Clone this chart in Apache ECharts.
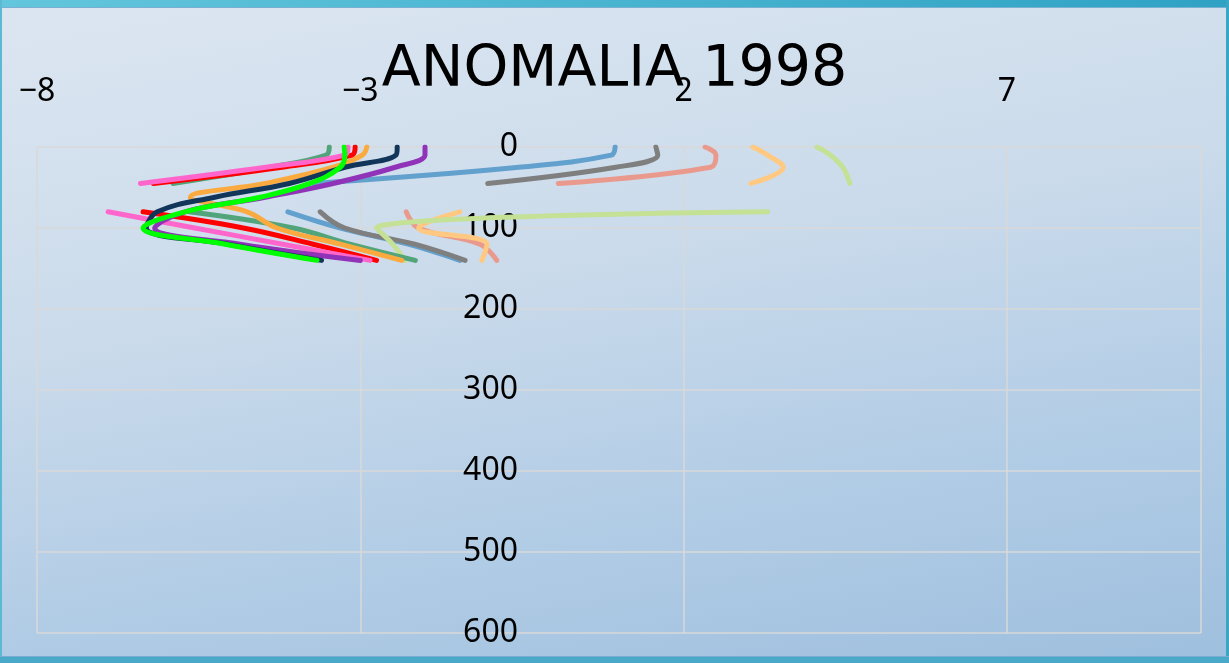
<!DOCTYPE html>
<html>
<head>
<meta charset="utf-8">
<script src="https://cdn.jsdelivr.net/npm/echarts@6/dist/echarts.min.js"></script>
<style>
  html, body { margin: 0; padding: 0; }
  #chart {
    width: 1229px;
    height: 663px;
    background: linear-gradient(170deg, #dce6f1 0%, #cbdbeb 40%, #b3cde6 70%, #9ebfde 100%);
  }
</style>
</head>
<body>
<div id="chart"></div>
<script>
// profundidades (eje Y, invertido)
const depths = [0, 10, 25, 45, 62, 80, 100, 120, 140]
// ticks del eje X
const xTicks = [-8, -3, 2, 7]

// anomalias por perfil (null = sin dato, corta la linea)
const lightBlue = [0.94, 0.88, -0.55, -3.73, null, -4.12, -3.31, -2.26, -1.46]
const gray = [1.57, 1.6, 0.95, -1.03, null, -3.62, -3.24, -2.16, -1.38]
const salmon = [2.33, 2.5, 2.42, 0.06, null, -2.29, -2.1, -1.15, -0.89]
const peach = [3.07, 3.3, 3.54, 3.04, null, -1.46, -2.1, -1.04, -1.12]
const lightGreen = [4.06, 4.27, 4.46, 4.57, null, 3.3, -2.75, -2.5, -2.31]
const seaGreen = [-3.48, -3.53, -4.4, -5.9, null, -5.65, -4.04, -3.16, -2.15]
const orange = [-2.9, -2.97, -3.42, -4.47, -5.63, -4.75, -4.29, -3.31, -2.36]
const red = [-3.08, -3.13, -4.21, -6.2, null, -6.36, -4.81, -3.73, -2.75]
const pink = [-3.19, -3.24, -4.46, -6.4, null, -6.9, -5.56, -4.2, -2.85]
const purple = [-2.0, -2.0, -2.46, -3.42, -4.47, -5.71, -6.18, -4.86, -3.0]
const navy = [-2.43, -2.45, -3.24, -4.1, -5.25, -6.14, -6.31, -5.05, -3.6]
const green = [-3.25, -3.24, -3.31, -3.78, -4.55, -5.71, -6.36, -5.09, -3.67]

const profiles = [
  { values: lightBlue, color: '#62a0cd' },
  { values: gray, color: '#7f7f7f' },
  { values: salmon, color: '#ea9a8c' },
  { values: peach, color: '#ffc982' },
  { values: lightGreen, color: '#c4e196' },
  { values: seaGreen, color: '#52a47a' },
  { values: orange, color: '#fbaa40' },
  { values: red, color: '#ff0000' },
  { values: pink, color: '#ff66cc' },
  { values: purple, color: '#9033b8' },
  { values: navy, color: '#12365a' },
  { values: green, color: '#00ff00' }
]

const chart = echarts.init(document.getElementById('chart'))

const labelFont = { fontFamily: 'Noto Sans', fontSize: 32, color: '#000' }
const minus = v => String(v).replace('-', '\u2212')

const option = {
  backgroundColor: 'transparent',
  animation: false,
  title: {
    text: 'ANOMALIA 1998',
    left: 'center',
    top: 38,
    textStyle: { fontFamily: 'DejaVu Sans', fontSize: 57, fontWeight: 'normal', color: '#000' }
  },
  grid: { left: 37, right: 28, top: 147, bottom: 30, containLabel: false, outerBoundsMode: 'none' },
  xAxis: {
    type: 'value',
    position: 'top',
    min: -8,
    max: 10,
    interval: 5,
    axisLine: { show: false, onZero: false },
    axisTick: { show: false },
    axisLabel: {
      ...labelFont,
      margin: 39,
      showMaxLabel: false,
      formatter: v => (xTicks.includes(v) ? minus(v) : '')
    },
    splitLine: { show: true, lineStyle: { color: '#d9d9d9', width: 1.5 } }
  },
  yAxis: {
    type: 'value',
    inverse: true,
    min: 0,
    max: 600,
    interval: 100,
    position: 'left',
    // el eje Y cruza en x = 0
    offset: -518,
    axisLine: { show: false, onZero: false },
    axisTick: { show: false },
    axisLabel: { ...labelFont, margin: 37, padding: [0, 0, 6, 0] },
    splitLine: { show: true, lineStyle: { color: '#d9d9d9', width: 1.5 } }
  },
  series: profiles.map((p, k) => ({
    type: 'line',
    z: 2 + k,
    smooth: 0.4,
    symbol: 'none',
    connectNulls: false,
    lineStyle: { color: p.color, width: 5, cap: 'round', join: 'round' },
    data: depths.map((d, i) => [p.values[i] === null ? '-' : p.values[i], d])
  })),
  graphic: [
    {
      type: 'rect',
      shape: { x: 0, y: 0, width: 1229, height: 7 },
      style: {
        fill: new echarts.graphic.LinearGradient(0, 0, 1, 0, [
          { offset: 0, color: '#63c6dc' },
          { offset: 1, color: '#2fa2c4' }
        ])
      },
      z: 100
    },
    { type: 'rect', shape: { x: 0, y: 7, width: 1229, height: 1 }, style: { fill: '#78b0d2' }, z: 100 },
    { type: 'rect', shape: { x: 0, y: 0, width: 2, height: 663 }, style: { fill: '#5bbad3' }, z: 100 },
    { type: 'rect', shape: { x: 1226, y: 0, width: 3, height: 663 }, style: { fill: '#3aa6c6' }, z: 100 },
    { type: 'rect', shape: { x: 0, y: 657, width: 1229, height: 6 }, style: { fill: '#4aa8c8' }, z: 100 },
    { type: 'rect', shape: { x: 0, y: 656, width: 1229, height: 1 }, style: { fill: '#79aed2' }, z: 100 }
  ]
}

chart.setOption(option)
</script>
</body>
</html>
